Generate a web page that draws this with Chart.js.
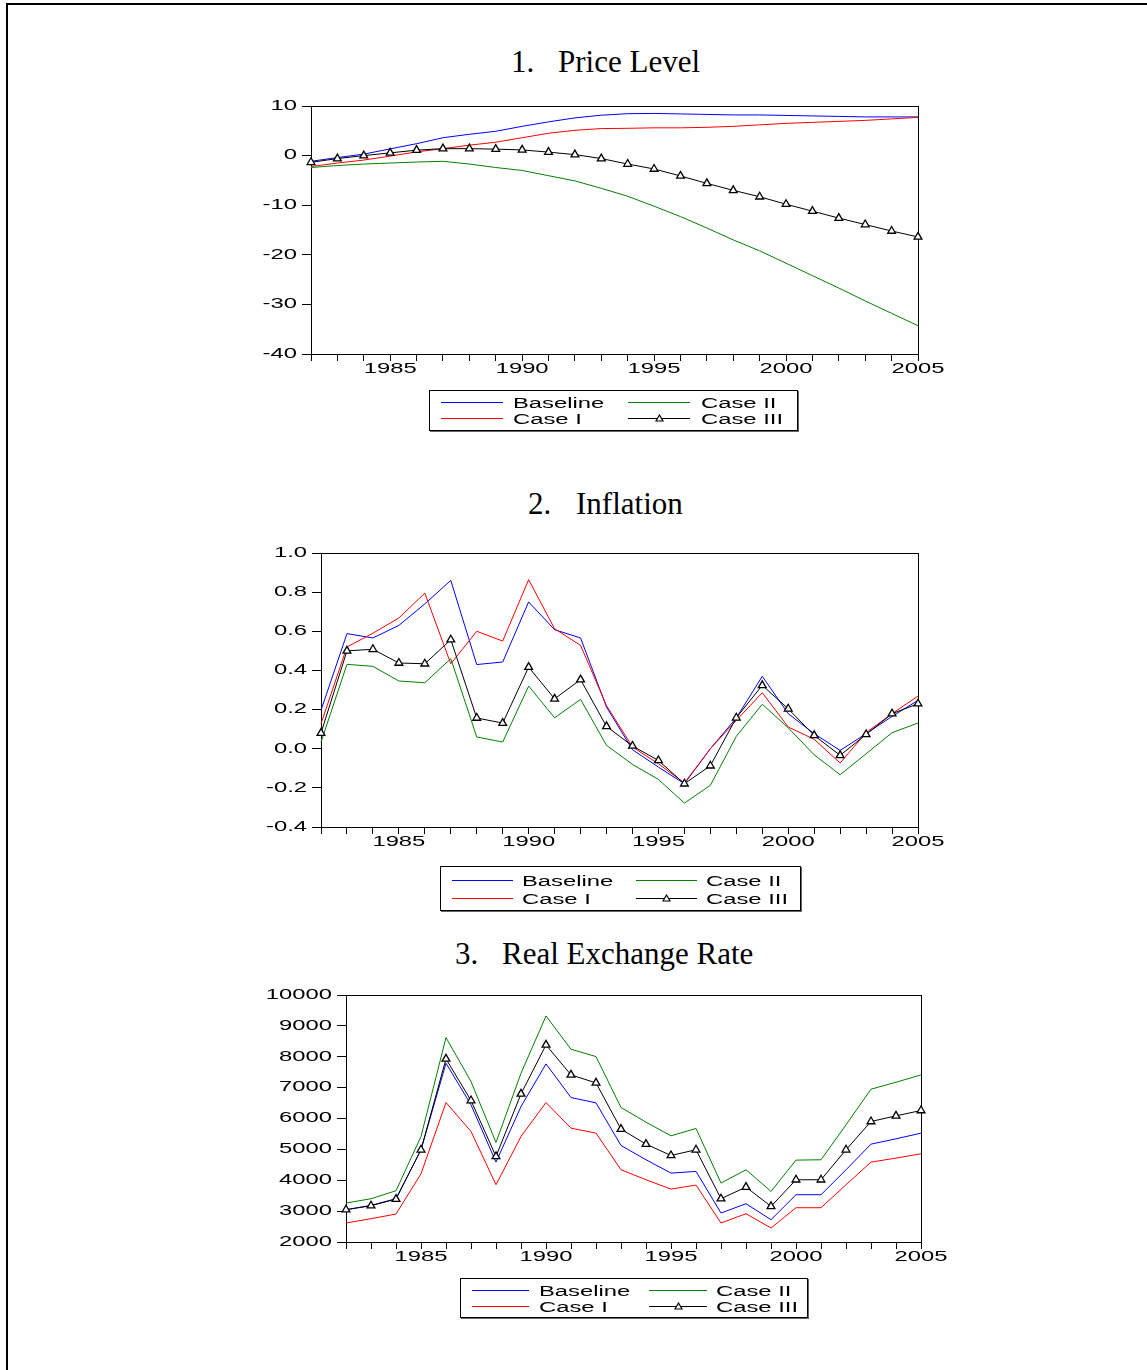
<!DOCTYPE html>
<html><head><meta charset="utf-8">
<script src="https://cdn.jsdelivr.net/npm/chart.js@4.4.1/dist/chart.umd.min.js"></script>
<style>
body{margin:0;background:#fff;width:1147px;height:1370px;position:relative;overflow:hidden;font-family:"Liberation Sans",Arial,sans-serif}
.frame{position:absolute;left:6px;top:3px;width:1200px;height:1400px;border-left:2px solid #000;border-top:2px solid #000}
.title{position:absolute;font-family:"Liberation Serif","Times New Roman",serif;font-size:31px;line-height:31px;white-space:nowrap;color:#000}
.cv{position:absolute}
.legend{position:absolute;border:1px solid #000;box-shadow:1px 1px 0 #666;background:#fff;box-sizing:border-box}
.ls{position:absolute;height:1px}
.lt{position:absolute;font-size:14px;line-height:16px;transform:scaleX(1.7);transform-origin:0 50%;white-space:nowrap;color:#000}
</style>
</head><body>
<div class="frame"></div>
<script>
// ---------------- DATA ----------------
const years = ['1982','1983','1984','1985','1986','1987','1988','1989','1990','1991','1992','1993',
               '1994','1995','1996','1997','1998','1999','2000','2001','2002','2003','2004','2005'];
const seriesNames = ['Baseline','Case I','Case II','Case III'];

const priceBaseline = [-1.15,-0.4,0.3,1.35,2.4,3.6,4.3,4.9,5.9,6.8,7.6,8.15,8.45,8.5,8.4,8.3,8.2,8.2,8.1,8.0,7.9,7.8,7.8,7.8];
const priceCase1    = [-2.2,-1.5,-0.9,-0.1,0.75,1.4,2.1,2.7,3.6,4.5,5.1,5.45,5.5,5.6,5.6,5.7,5.9,6.2,6.5,6.7,6.9,7.1,7.4,7.7];
const priceCase2    = [-2.4,-2.0,-1.7,-1.5,-1.3,-1.15,-1.7,-2.4,-3.0,-4.05,-5.1,-6.6,-8.2,-10.2,-12.3,-14.6,-17.0,-19.2,-21.7,-24.2,-26.7,-29.3,-31.8,-34.3];
const priceCase3    = [-1.35,-0.6,0,0.55,1.1,1.4,1.4,1.3,1.15,0.7,0.2,-0.6,-1.7,-2.7,-4.1,-5.6,-7.0,-8.3,-9.8,-11.2,-12.6,-13.9,-15.2,-16.4];

const inflBaseline = [0.196,0.588,0.566,0.63,0.74,0.86,0.43,0.443,0.75,0.608,0.566,0.213,-0.005,-0.094,-0.179,0.0,0.157,0.37,0.179,0.077,-0.009,0.077,0.165,0.247];
const inflCase1    = [0.128,0.52,0.59,0.668,0.795,0.434,0.60,0.55,0.864,0.613,0.528,0.22,0.009,-0.077,-0.175,0.0,0.145,0.286,0.111,0.048,-0.073,0.082,0.179,0.269];
const inflCase2    = [0.034,0.431,0.421,0.346,0.337,0.46,0.06,0.034,0.32,0.158,0.252,0.017,-0.08,-0.157,-0.278,-0.187,0.063,0.227,0.107,-0.031,-0.133,-0.026,0.082,0.131];
const inflCase3    = [0.08,0.50,0.508,0.438,0.434,0.557,0.157,0.131,0.417,0.255,0.353,0.114,0.014,-0.06,-0.179,-0.087,0.158,0.324,0.204,0.068,-0.034,0.073,0.179,0.23];

const rerBaseline = [3046,3186,3402,4987,7790,6442,4588,6388,7768,6679,6507,5127,4663,4232,4286,2938,3240,2722,3531,3531,4340,5170,5342,5526];
const rerCase1    = [2615,2755,2906,4210,6517,5580,3854,5418,6517,5687,5526,4340,4016,3714,3844,2615,2916,2453,3110,3110,3854,4588,4717,4857];
const rerCase2    = [3261,3402,3660,5418,8620,7197,5224,7466,9321,8243,8005,6356,5881,5439,5677,3908,4340,3639,4652,4663,5795,6949,7175,7412];
const rerCase3    = [3046,3175,3391,4987,7930,6582,4771,6798,8383,7412,7153,5655,5170,4803,4987,3402,3779,3154,4016,4016,4987,5903,6086,6259];

const titleNums  = ['1.','2.','3.'];
const titleTexts = ['Price Level','Inflation','Real Exchange Rate'];
const yTicks1 = {min:-40, max:10, step:10, dec:0};
const yTicks2 = {min:-0.4, max:1.0, step:0.2, dec:1};
const yTicks3 = {min:2000, max:10000, step:1000, dec:0};

// ---------------- STYLE / LAYOUT ----------------
const colors = ['#0000ff','#ff0000','#008000','#000000'];
const STRETCH = 1.7;
const CANVAS_L = 230, CANVAS_W = 740, TOPPAD = 15, XH = 40;

const panels = [
  {plot:{l:311,r:918,t:106,b:354}, yt:yTicks1, data:[priceBaseline,priceCase1,priceCase2,priceCase3],
   title:{nx:511, tx:558, top:46},
   legend:{x:429,y:390,w:369,h:41, c:[[441,503,513],[628,690,701]], rows:[402,418]}},
  {plot:{l:321,r:918,t:553,b:827}, yt:yTicks2, data:[inflBaseline,inflCase1,inflCase2,inflCase3],
   title:{nx:528, tx:576, top:488},
   legend:{x:440,y:866,w:361,h:45, c:[[452,513,522],[636,697,706]], rows:[880,898]}},
  {plot:{l:346,r:921,t:995,b:1242}, yt:yTicks3, data:[rerBaseline,rerCase1,rerCase2,rerCase3],
   title:{nx:455, tx:502, top:938},
   legend:{x:460,y:1278,w:348,h:40, c:[[472,529,539],[649,707,716]], rows:[1290,1306]}}
];

const evPlugin = {
  id:'evPlugin',
  beforeDatasetsDraw(chart){
    const ctx = chart.ctx, ca = chart.chartArea;
    ctx.save();
    ctx.strokeStyle = '#000'; ctx.lineWidth = 1;
    ctx.strokeRect(Math.round(ca.left)+0.5, Math.round(ca.top)+0.5, Math.round(ca.right-ca.left), Math.round(ca.bottom-ca.top));
    ctx.restore();
  },
  afterDraw(chart, args, opts){
    const ctx = chart.ctx, ca = chart.chartArea;
    ctx.save();
    ctx.fillStyle = '#000';
    ctx.font = '14px "Liberation Sans", Arial, sans-serif';
    ctx.textBaseline = 'middle';
    const xs = chart.scales.x;
    xs.ticks.forEach((t,i)=>{
      const lab = chart.data.labels[t.value];
      if (Number(lab) % 5 === 0) {
        const px = xs.getPixelForTick(i);
        ctx.save(); ctx.translate(px, ca.bottom + 15); ctx.scale(STRETCH,1);
        ctx.textAlign = 'center'; ctx.fillText(lab, 0, 0); ctx.restore();
      }
    });
    const ys = chart.scales.y;
    ys.ticks.forEach((t,i)=>{
      const py = ys.getPixelForTick(i);
      let v = t.value; if (Math.abs(v) < 1e-9) v = 0;
      const lab = v.toFixed(opts.dec);
      ctx.save(); ctx.translate(ca.left - 14, py); ctx.scale(STRETCH,1);
      ctx.textAlign = 'right'; ctx.fillText(lab, 0, 0); ctx.restore();
    });
    ctx.restore();
  }
};

function el(tag, cls, style, text){
  const e = document.createElement(tag);
  if (cls) e.className = cls;
  Object.assign(e.style, style||{});
  if (text) e.textContent = text;
  document.body.appendChild(e);
  return e;
}

panels.forEach((p, k)=>{
  el('div','title',{left:p.title.nx+'px', top:p.title.top+'px'}, titleNums[k]);
  el('div','title',{left:p.title.tx+'px', top:p.title.top+'px'}, titleTexts[k]);

  const h = p.plot.b - p.plot.t + TOPPAD + XH;
  const cv = el('canvas','cv',{left:CANVAS_L+'px', top:(p.plot.t - TOPPAD)+'px'});
  cv.width = CANVAS_W; cv.height = h;
  const yW = p.plot.l - CANVAS_L;
  const padR = CANVAS_L + CANVAS_W - p.plot.r;

  const datasets = p.data.map((arr, j)=>({
    label: seriesNames[j],
    data: arr,
    borderColor: colors[j],
    backgroundColor: colors[j],
    borderWidth: 1,
    tension: 0,
    pointRadius: j === 3 ? 4.5 : 0,
    pointStyle: 'triangle',
    pointBackgroundColor: '#fff',
    pointBorderColor: '#000',
    pointBorderWidth: 1.3,
    clip: false,
    order: 4 - j
  }));

  new Chart(cv, {
    type:'line',
    data:{labels: years, datasets},
    options:{
      responsive:false, animation:false, devicePixelRatio:1,
      layout:{padding:{left:0, right:padR, top:TOPPAD, bottom:0}},
      plugins:{legend:{display:false}, tooltip:{enabled:false}, evPlugin:{dec:p.yt.dec}},
      scales:{
        x:{type:'category', offset:false,
           grid:{display:true, drawOnChartArea:false, drawTicks:true, tickLength:7, color:'#000', lineWidth:1},
           border:{display:true, color:'#000', width:1},
           ticks:{display:false, autoSkip:false},
           afterFit(s){ s.height = XH; }},
        y:{type:'linear', min:p.yt.min, max:p.yt.max,
           grid:{display:true, drawOnChartArea:false, drawTicks:true, tickLength:9, color:'#000', lineWidth:1},
           border:{display:true, color:'#000', width:1},
           ticks:{display:false, stepSize:p.yt.step},
           afterFit(s){ s.width = yW; }}
      }
    },
    plugins:[evPlugin]
  });

  const L = p.legend;
  el('div','legend',{left:L.x+'px', top:L.y+'px', width:L.w+'px', height:L.h+'px'});
  const place = [[0,0],[0,1],[1,0],[1,1]];
  seriesNames.forEach((name, j)=>{
    const col = L.c[place[j][0]], ry = L.rows[place[j][1]];
    el('div','ls',{left:col[0]+'px', top:ry+'px', width:(col[1]-col[0])+'px', backgroundColor:colors[j]});
    if (j === 3) {
      const mx = (col[0]+col[1])/2;
      const s = document.createElementNS('http://www.w3.org/2000/svg','svg');
      s.setAttribute('width','9'); s.setAttribute('height','8');
      s.style.position='absolute'; s.style.left=(mx-4.5)+'px'; s.style.top=(ry-4)+'px';
      s.innerHTML = '<polygon points="4.5,1 8,7 1,7" fill="#fff" stroke="#000" stroke-width="1.2"/>';
      document.body.appendChild(s);
    }
    el('div','lt',{left:col[2]+'px', top:(ry-7)+'px'}, name);
  });
});
</script>
</body></html>
